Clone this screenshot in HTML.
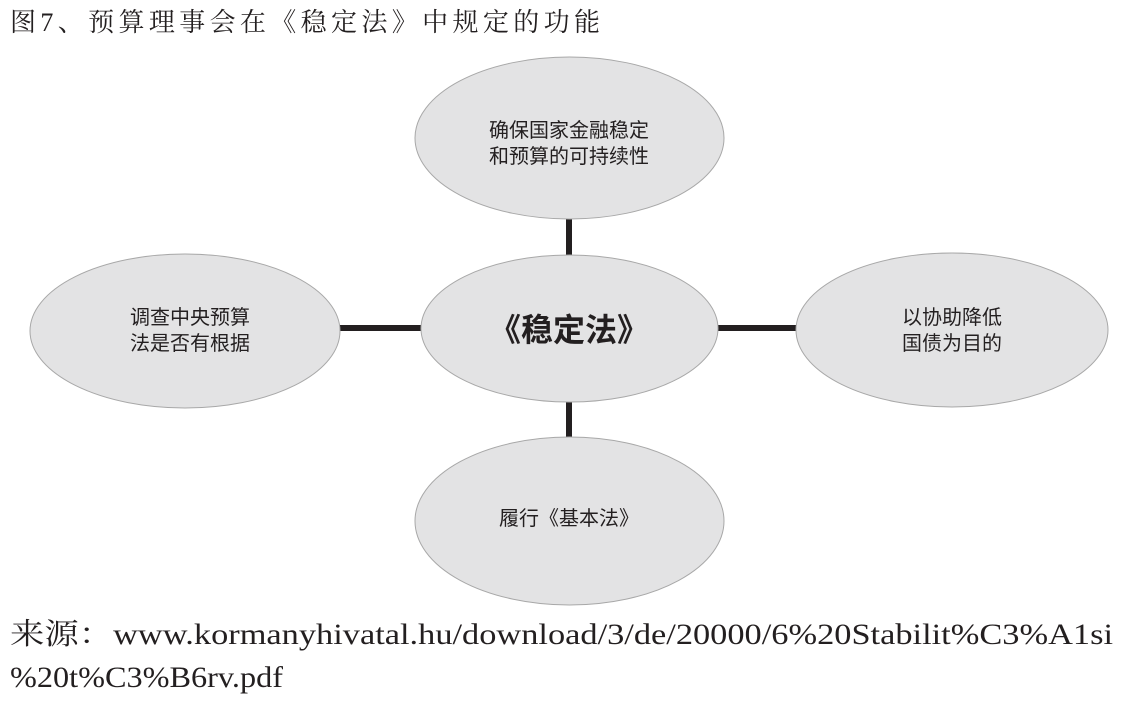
<!DOCTYPE html>
<html><head><meta charset="utf-8"><style>
html,body{margin:0;padding:0;background:#fff;width:1123px;height:713px;overflow:hidden}
svg{display:block}
.t{font-family:"Liberation Serif","Noto Serif CJK SC","Noto Sans CJK SC",serif;fill:#231f20}
.s{font-family:"Liberation Sans","Noto Sans CJK SC",sans-serif;fill:#231f20}
</style></head><body>
<svg width="1123" height="713" viewBox="0 0 1123 713">
<text class="t" x="10" y="31" font-size="26" textLength="590" lengthAdjust="spacing">图7、预算理事会在《稳定法》中规定的功能</text>
<g stroke="#231f20" stroke-width="6">
<line x1="569" y1="215" x2="569" y2="258"/>
<line x1="569" y1="400" x2="569" y2="440"/>
<line x1="338" y1="328" x2="423" y2="328"/>
<line x1="716" y1="328" x2="800" y2="328"/>
</g>
<g fill="#e3e3e4" stroke="#a8a8a8" stroke-width="1">
<ellipse cx="569.5" cy="138" rx="154.5" ry="81"/>
<ellipse cx="569.5" cy="328.5" rx="148.5" ry="73.5"/>
<ellipse cx="185" cy="331" rx="155" ry="77"/>
<ellipse cx="952" cy="330" rx="156" ry="77"/>
<ellipse cx="569.5" cy="521" rx="154.5" ry="84"/>
</g>
<g class="s" font-size="20" text-anchor="middle">
<text x="569" y="137">确保国家金融稳定</text>
<text x="569" y="163">和预算的可持续性</text>
<text x="190" y="324">调查中央预算</text>
<text x="190" y="350">法是否有根据</text>
<text x="952" y="324">以协助降低</text>
<text x="952" y="350">国债为目的</text>
<text x="569" y="525">履行《基本法》</text>
<text x="569" y="341" font-size="32" font-weight="bold">《稳定法》</text>
</g>
<text class="t" x="10" y="644" font-size="29.5" textLength="1103" lengthAdjust="spacingAndGlyphs">来源：www.kormanyhivatal.hu/download/3/de/20000/6%20Stabilit%C3%A1si</text>
<text class="t" x="10" y="687" font-size="29.5" textLength="273" lengthAdjust="spacingAndGlyphs">%20t%C3%B6rv.pdf</text>
</svg>
</body></html>
